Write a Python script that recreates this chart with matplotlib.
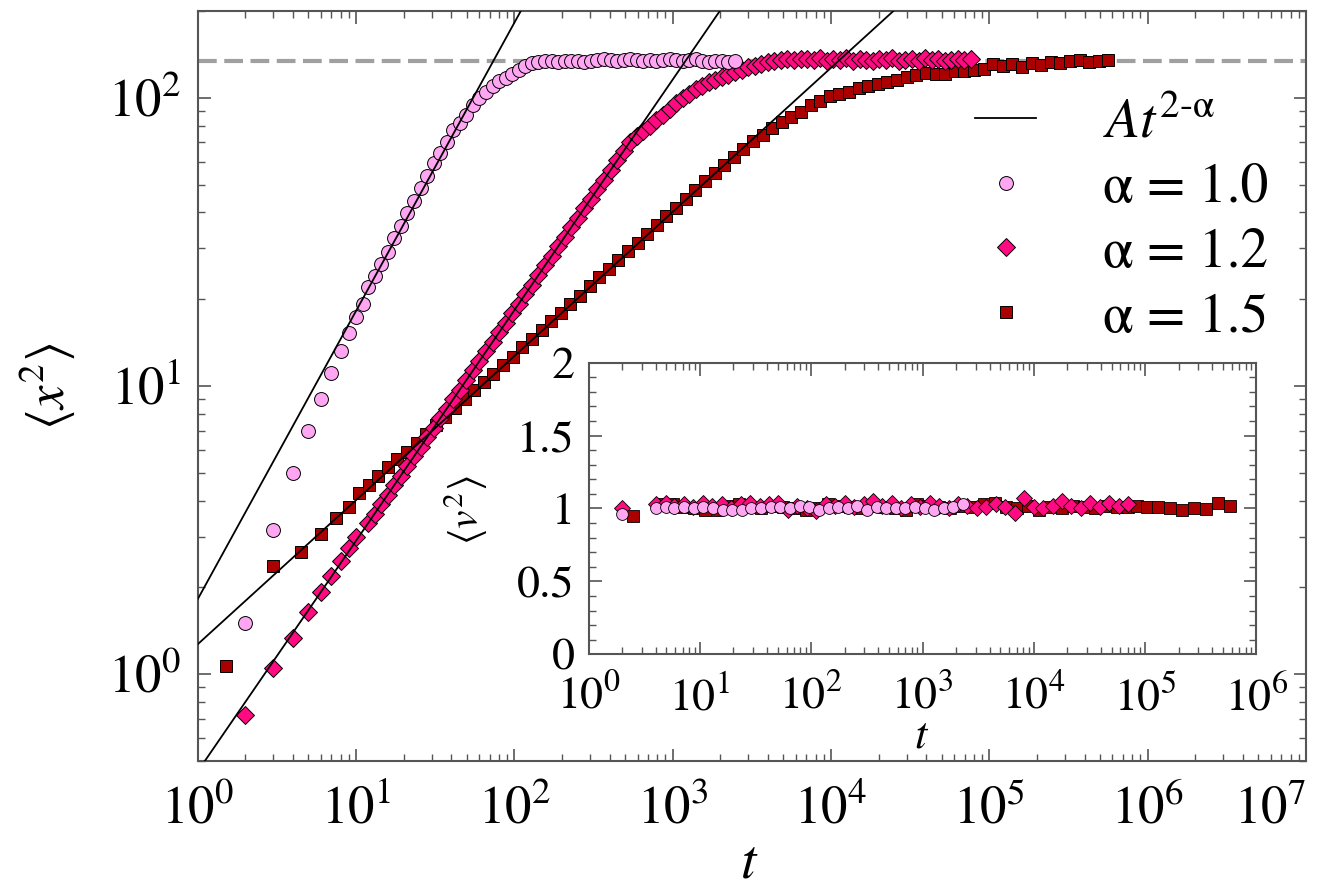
import matplotlib
matplotlib.use("Agg")
import matplotlib.pyplot as plt
from matplotlib import ticker
import numpy as np

plt.rcParams["font.family"] = ["STIXGeneral", "DejaVu Serif"]
plt.rcParams["mathtext.fontset"] = "stix"

# ---- main panel data: <x^2> vs t ----
# shared log grid (ratio ~1.1) used by alpha=1.0 and alpha=1.2
t_grid = [11.92, 13.11, 14.42, 15.86, 17.45, 19.19, 21.11, 23.23, 25.55, 28.10,
          30.91, 34.00, 37.40, 41.14, 45.26, 49.79, 54.76, 60.24, 66.26, 72.89,
          80.18, 88.20, 97.02, 106.7, 117.4, 129.1, 142.0, 156.2, 171.9, 189.1,
          208.0, 228.8, 251.6, 276.8, 304.5, 334.9, 368.4, 405.3, 445.8, 490.4,
          539.4, 593.4, 652.7, 718.0, 789.7, 868.7, 955.6, 1051, 1156, 1272,
          1399, 1539, 1693, 1862, 2048, 2253, 2478, 2726, 2999, 3299,
          3628, 3991, 4390, 4829, 5313, 5844, 6428, 7071, 7778, 8556,
          9412, 10353, 11389, 12527, 13781, 15159, 16675, 18342, 20176, 22194,
          24413, 26855, 29540, 32494, 35744, 39318, 43250, 47575, 52332, 57565,
          63322, 69654, 76620]

# alpha = 1.0 (circles)
t_early_c = [2, 3, 4, 5, 6, 7, 8, 9, 10, 11]
x2_early_c = [1.5, 3.17, 5.0, 7.0, 9.0, 11.1, 13.2, 15.3, 17.4, 19.3]
x2_c = [22.0, 24.0, 26.5, 29.2, 32.5, 36.0, 39.8, 44.0, 48.5, 53.5,
        59.5, 64.5, 70, 77, 82, 87, 94, 99.5, 105, 109.5,
        114, 117.5, 120.5, 125, 128.5, 132, 133.5, 134.5, 134, 133.5,
        134, 134.5, 134, 133.5, 134.5, 135, 136, 135, 134.5, 135.5,
        136, 135, 134.5, 135, 134, 135, 136.5, 135, 134, 135,
        136, 134, 133.5, 134.5, 134, 133.5, 134.5]

# alpha = 1.2 (diamonds)
t_early_d = [2, 3, 4, 5, 6, 7, 8, 9, 10]
x2_early_d = [0.72, 1.05, 1.34, 1.65, 1.93, 2.19, 2.47, 2.74, 2.99]
x2_d = [3.34, 3.61, 3.89, 4.20, 4.53, 4.89, 5.28, 5.70, 6.15, 6.64,
        7.16, 7.73, 8.34, 9.01, 9.72, 10.49, 11.32, 12.22, 13.19, 14.23,
        15.36, 16.57, 17.89, 19.31, 20.84, 22.49, 24.27, 26.19, 28.27, 30.51,
        32.92, 35.53, 38.35, 41.39, 44.67, 48.21, 52.03, 56.15, 60.60, 65.4,
        70.0, 73.5, 76.5, 80, 83.5, 87, 91.5, 96, 99.5, 103,
        107, 110, 113, 115.5, 118, 120, 123, 125, 127.5, 129,
        131, 133, 134, 135, 136, 135.5, 136.5,
        136, 135, 137, 134.5, 136, 135, 137.5, 134, 136, 135.5,
        134.5, 136.5, 135, 137, 134, 135.5, 136, 134.5, 137, 135,
        136, 134.5, 135.5, 136.5, 135, 136]

# alpha = 1.5 (squares)
t_s = [1.5, 3, 4.5, 6, 7.5, 9, 10.5,
       12, 13.8, 15.87, 18.25, 20.99, 24.14, 27.76, 31.92, 36.71, 42.21,
       48.55, 55.83, 64.2, 73.83, 84.9, 97.6, 112.3, 129.1, 148.5, 170.8,
       196.4, 225.9, 259.8, 298.7, 343.5, 395.1, 454.3, 522.5, 600.8, 690.9,
       794.6, 913.8, 1051, 1208, 1390, 1598, 1838, 2114, 2431, 2795,
       3215, 3697, 4251, 4889, 5622, 6466, 7435, 8551, 9833, 11308,
       13004, 14955, 17198, 19778, 22744, 26156, 30079, 34591, 39780, 45747,
       52609, 60500, 69575, 80011, 92013, 105815, 121687, 139940, 160931, 185070,
       212831, 244755, 281468, 323688, 372241, 428077, 492289, 566132]
x2_s = [1.07, 2.38, 2.66, 3.06, 3.47, 3.81, 4.24,
        4.53, 4.88, 5.25, 5.56, 5.91, 6.35, 6.8, 7.3, 7.8, 8.4,
        9.0, 9.7, 10.3, 11.0, 11.8, 12.6, 13.6, 14.6, 15.6, 16.8,
        17.9, 19.3, 20.6, 22.2, 23.8, 25.5, 27.3, 29.3, 31.4, 33.7,
        36.2, 38.8, 41.6, 44.6, 47.9, 51.3, 54.9, 58.5, 62.5, 66.5,
        70.5, 74.5, 78.5, 82.2, 85.5, 89.5, 94, 97.6, 101.5, 103,
        104.5, 108.5, 109.5, 111.5, 113.5, 115.5, 118, 120, 122, 121,
        121, 124, 124, 125, 126, 130.5, 129, 130.8, 128, 132,
        130, 133.5, 132, 134, 135.4, 132.7, 134, 135]

plateau = 134
alphas = [1.0, 1.2, 1.5]
fit_A = [1.82, 0.46, 1.27]
fit_t = [1, 1e7]

# ---- inset data: <v^2> vs t ----
tv_c = [2, 4, 4.9, 5.9, 7.2, 8.8, 10.7, 13.1, 16, 19.5, 23.8, 29, 35.4, 43.2,
        52.7, 64.3, 78.5, 95.8, 117, 143, 174, 212, 259, 316, 386, 471, 575,
        701, 855, 1043, 1273, 1553, 1895, 2312]
v2_c = [0.96, 1.00, 1.01, 1.00, 1.01, 1.00, 1.01, 1.00, 0.99, 0.99,
        0.99, 1.00, 1.00, 1.01, 1.01, 1.00, 1.02, 1.01, 0.99, 1.00,
        1.01, 1.00, 1.02, 0.99, 1.01, 1.00, 1.00, 1.00, 1.01, 1.00,
        0.99, 1.00, 1.01, 1.03]
tv_d = [2, 4, 4.9, 5.9, 7.2, 8.7, 10.6, 12.9, 15.7, 19.1, 23.2, 28.2, 34.3,
        41.7, 50.7, 61.7, 75, 91.2, 111, 135, 164, 199, 242, 295, 358, 436,
        530, 644, 783, 953, 1159, 1409, 1713, 2083, 2533, 3080, 3746, 4555,
        5539, 6735, 8190, 9960, 12110, 14730, 17910, 21780, 26480, 32200,
        39160, 47620, 57900, 70410]
v2_d = [1.00, 1.03, 1.04, 1.02, 1.03, 1.01, 1.04, 1.02, 1.03, 1.00,
        1.03, 1.04, 1.02, 1.03, 1.04, 0.99, 1.02, 1.00, 0.98, 1.03,
        1.02, 1.04, 1.01, 1.03, 1.05, 1.02, 1.04, 1.00, 1.03, 1.01,
        1.04, 1.02, 1.00, 1.03, 1.02, 1.00, 1.01, 1.03, 1.01, 0.97,
        1.07, 1.01, 1.00, 1.02, 1.05, 1.02, 1.00, 1.04, 1.01, 1.04,
        1.02, 1.03]
tv_s = [2.5, 4.5, 5.7, 7.1, 8.9, 11.2, 14.1, 17.7, 22.3, 28.1, 35.4, 44.6,
        56.1, 70.6, 88.9, 112, 141, 177, 223, 281, 354, 446, 561, 706, 889,
        1119, 1409, 1774, 2233, 2811, 3539, 4455, 5608, 7060, 8888, 11190,
        14090, 17740, 22330, 28110, 35390, 44550, 56080, 70600, 84000,
        103000, 131000, 167000, 215000, 275000, 352000, 454000, 578000]
v2_s = [0.95, 1.03, 1.03, 1.01, 1.00, 0.99, 0.99, 1.02, 1.03, 1.01,
        1.00, 1.02, 1.01, 1.00, 0.99, 1.00, 1.03, 1.02, 1.01, 1.00,
        1.02, 1.01, 1.00, 0.99, 1.03, 1.02, 1.01, 1.00, 1.02, 1.01,
        1.03, 1.04, 1.01, 1.00, 1.02, 0.99, 1.01, 1.00, 1.02, 1.01,
        1.00, 1.02, 1.01, 1.01, 1.02, 1.01, 1.01, 1.005, 0.99, 1.005,
        0.995, 1.035, 1.02]

c_circ = "#ffa6f2"
c_diam = "#ff0a80"
c_sq = "#aa0000"
spine_col = "#555555"


def style_axes(ax, labelsize, xpad, ypad):
    for s in ax.spines.values():
        s.set_color(spine_col)
        s.set_linewidth(1.5)
    ax.tick_params(which="both", direction="in", top=True, right=True,
                   color=spine_col, labelsize=labelsize)
    ax.tick_params(axis="x", pad=xpad)
    ax.tick_params(axis="y", pad=ypad)
    ax.tick_params(which="major", length=9, width=1.2)
    ax.tick_params(which="minor", length=5, width=1.0)


fig = plt.figure(figsize=(13.17, 8.92), dpi=100)

# main axes
ax = fig.add_axes([0.1501, 0.1469, 0.8415, 0.8408])
ax.set_xscale("log")
ax.set_yscale("log")
ax.set_xlim(1, 1e7)
ax.set_ylim(0.5, 200)

ax.axhline(plateau, color="#a0a0a0", lw=3, dashes=(4.5, 1.8), zorder=1)

h_s, = ax.plot(t_s, x2_s, ls="none", marker="s", ms=9, mfc=c_sq, mec="black",
               mew=0.7, zorder=2)
h_d, = ax.plot(t_early_d + t_grid, x2_early_d + x2_d, ls="none", marker="D", ms=9.5,
               mfc=c_diam, mec="black", mew=0.7, zorder=3)
h_c, = ax.plot(t_early_c + t_grid[:len(x2_c)], x2_early_c + x2_c, ls="none",
               marker="o", ms=10, mfc=c_circ, mec="black", mew=0.7, zorder=4)

fit_lines = []
for A, a in zip(fit_A, alphas):
    ln, = ax.plot(fit_t, [A * t ** (2 - a) for t in fit_t], color="black",
                  lw=1.3, zorder=5)
    fit_lines.append(ln)

ax.xaxis.set_major_locator(ticker.LogLocator(base=10, numticks=20))
ax.xaxis.set_minor_locator(ticker.LogLocator(base=10, subs=np.arange(2, 10), numticks=20))
ax.yaxis.set_major_locator(ticker.LogLocator(base=10, numticks=20))
ax.yaxis.set_minor_locator(ticker.LogLocator(base=10, subs=np.arange(2, 10), numticks=20))
ax.xaxis.set_minor_formatter(ticker.NullFormatter())
ax.yaxis.set_minor_formatter(ticker.NullFormatter())
style_axes(ax, 38, 18, 12)

ax.set_xlabel(r"$t$", fontsize=40, va="baseline")
ax.xaxis.set_label_coords(0.498, -0.156)
ax.set_ylabel(r"$\langle x^2\rangle$", fontsize=38)
ax.yaxis.set_label_coords(-0.109, 0.5)

leg = ax.legend([fit_lines[0], h_c, h_d, h_s],
                [r"$At^{2\text{-}\mathrm{\alpha}}$", "α = 1.0", "α = 1.2", "α = 1.5"],
                loc="upper left", bbox_to_anchor=(975 / 1317, 1 - 98 / 892),
                bbox_transform=fig.transFigure, frameon=False, fontsize=40,
                handlelength=1.1, handletextpad=1.2, labelspacing=0.25,
                borderpad=0, borderaxespad=0, numpoints=1)

# inset
axin = fig.add_axes([0.447, 0.2665, 0.507, 0.3269])
axin.set_xscale("log")
axin.set_xlim(1, 1e6)
axin.set_ylim(0, 2)
axin.plot(tv_s, v2_s, ls="none", marker="s", ms=8, mfc=c_sq, mec="black", mew=0.6)
axin.plot(tv_d, v2_d, ls="none", marker="D", ms=8, mfc=c_diam, mec="black", mew=0.6)
axin.plot(tv_c, v2_c, ls="none", marker="o", ms=8.5, mfc=c_circ, mec="black", mew=0.6)

axin.xaxis.set_major_locator(ticker.LogLocator(base=10, numticks=20))
axin.xaxis.set_minor_locator(ticker.LogLocator(base=10, subs=np.arange(2, 10), numticks=20))
axin.xaxis.set_minor_formatter(ticker.NullFormatter())
axin.set_yticks([0, 0.5, 1, 1.5, 2])
axin.set_yticklabels(["0", "0.5", "1", "1.5", "2"])
axin.yaxis.set_minor_locator(ticker.MultipleLocator(0.1))
style_axes(axin, 33, 16, 10)

axin.set_xlabel(r"$t$", fontsize=32, va="baseline")
axin.xaxis.set_label_coords(0.499, -0.321)
axin.set_ylabel(r"$\langle v^2\rangle$", fontsize=30)
axin.yaxis.set_label_coords(-0.148, 0.495)

# the 10^7 label sits inside the figure edge in the reference
fig.canvas.draw()
for lab in ax.get_xticklabels():
    if abs(lab.get_position()[0] - 1e7) < 1:
        lab.set_horizontalalignment("right")
        lab.set_x(1e7)

fig.savefig("out.png", dpi=100)
